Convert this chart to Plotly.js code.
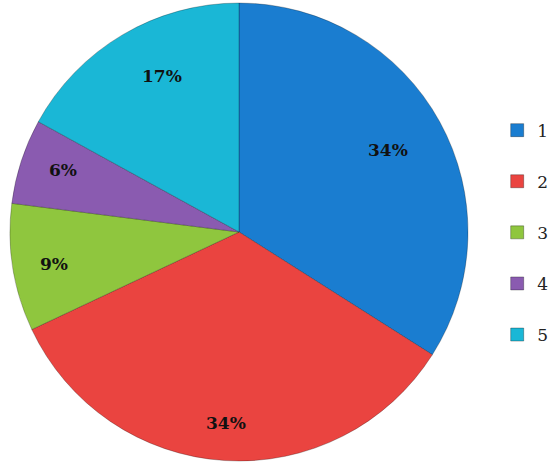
<!DOCTYPE html>
<html><head><meta charset="utf-8">
<script src="https://cdn.plot.ly/plotly-3.0.1.min.js"></script>
<style>html,body{margin:0;padding:0;background:#fff}#chart{width:550px;height:468px}</style>
</head><body><div id="chart"></div>
<script>
const categories = ['1', '2', '3', '4', '5'];
const shares = [34, 34, 9, 6, 17];
const sliceColors = ['#1a7dd0', '#ea4440', '#8fc63e', '#8a5bb0', '#1ab7d6'];

const W = 550, H = 468;
const cx = 239, cyTop = 232, R = 229;
const dom = {x: [(cx - R) / W, (cx + R) / W], y: [(H - cyTop - R) / H, (H - cyTop + R) / H]};

const total = shares.reduce((a, b) => a + b, 0);
const labelRadius = [0.85, 0.89, 0.89, 0.88, 0.85];
let acc = 0;
const annotations = shares.map((v, i) => {
  const mid = (acc + v / 2) / total * 2 * Math.PI;
  acc += v;
  const rr = labelRadius[i] * R;
  return {
    x: (cx + rr * Math.sin(mid)) / W,
    y: 1 - (cyTop - rr * Math.cos(mid)) / H,
    xref: 'paper', yref: 'paper', showarrow: false,
    text: '<b>' + Math.round(v / total * 100) + '%</b>',
    font: {family: 'DejaVu Serif', size: 17, color: '#111'}
  };
});

const traces = [{
  type: 'pie', labels: categories, values: shares, sort: false,
  direction: 'clockwise', rotation: 0, textinfo: 'none', hoverinfo: 'skip',
  showlegend: false, domain: dom,
  marker: {colors: sliceColors, line: {color: 'rgba(0,0,0,0.25)', width: 1}}
}];
categories.forEach((c, i) => {
  traces.push({
    type: 'scatter', mode: 'markers', x: [null], y: [null], name: c,
    legendgroup: 'g' + i, showlegend: true,
    marker: {symbol: 'square', size: 13, color: sliceColors[i], line: {color: 'rgba(0,0,0,0.3)', width: 1}}
  });
});

const layout = {
  width: W, height: H, margin: {l: 0, r: 0, t: 0, b: 0, autoexpand: false},
  paper_bgcolor: '#fff', plot_bgcolor: '#fff',
  xaxis: {visible: false}, yaxis: {visible: false},
  legend: {x: 0.904, y: 0.503, xanchor: 'left', yanchor: 'middle', tracegroupgap: 26,
    itemwidth: 30, font: {family: 'DejaVu Serif', size: 17, color: '#222'}},
  annotations: annotations
};
Plotly.newPlot('chart', traces, layout, {staticPlot: true});
</script></body></html>
